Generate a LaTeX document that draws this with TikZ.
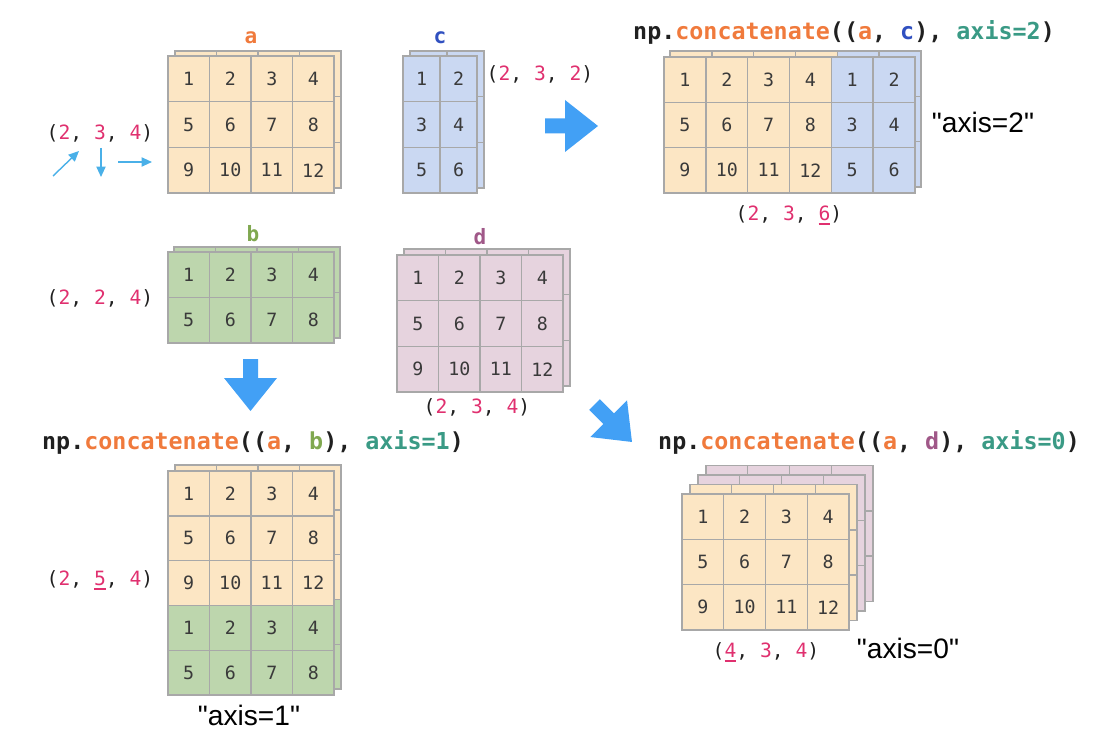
\documentclass[tikz,border=0pt]{standalone}
\usepackage{fontspec}
\setmainfont{Liberation Sans}[Ligatures=TeXOff]
\setmonofont{DejaVu Sans Mono}
\usetikzlibrary{arrows.meta}
\definecolor{orf}{HTML}{FCE6C4}
\definecolor{blf}{HTML}{CAD8F2}
\definecolor{grf}{HTML}{BDD6AD}
\definecolor{pkf}{HTML}{E6D3DE}
\definecolor{gridc}{HTML}{A8A8A8}
\definecolor{numc}{HTML}{3A3A3A}
\definecolor{dark}{HTML}{202020}
\definecolor{pk}{HTML}{E0306F}
\definecolor{orc}{HTML}{F07A3C}
\definecolor{blc}{HTML}{3050C0}
\definecolor{grc}{HTML}{80A850}
\definecolor{puc}{HTML}{A05888}
\definecolor{tl}{HTML}{3A9A85}
\definecolor{bigblue}{HTML}{42A0F5}
\definecolor{smallblue}{HTML}{4AB0E8}
\newcommand{\drawlayer}[9]{%
  \foreach \r in {1,...,#5}{%
    \foreach \c in {1,...,#4}{%
      \pgfmathtruncatemacro{\n}{(\r-1)*#4+\c}%
      \node[cell, fill=#8, minimum width=#6*0.025cm, minimum height=#7*0.025cm]
        (#1-\r-\c) at ({#2+(\c-0.5)*#6},{#3+(\r-0.5)*#7}) {\ifnum#9=1 \n\fi};
    }}}
\newcommand{\pk}[1]{\textcolor{pk}{#1}}
\newcommand{\pul}[1]{\textcolor{pk}{\setbox0\hbox{#1}\rlap{\rule[-3.2pt]{\wd0}{1.3pt}}\box0}}
\begin{document}
\begin{tikzpicture}[x=0.025cm,y=-0.025cm,
  cell/.style={draw=gridc, line width=1pt, inner sep=0pt, text=numc,
    font=\ttfamily\fontsize{13}{13}\selectfont},
  shp/.style={font=\ttfamily\fontsize{14}{14}\selectfont, text=dark, inner sep=0pt},
  ttl/.style={font=\ttfamily\bfseries\fontsize{16.6}{17}\selectfont, text=dark, inner sep=0pt},
  quote/.style={font=\fontsize{20}{20}\selectfont, text=black, inner sep=0pt},
  lbl/.style={font=\ttfamily\bfseries\fontsize{15}{15}\selectfont, inner sep=0pt},
  blockarrow/.style={fill=bigblue, draw=none},
  smallarrow/.style={draw=smallblue, line width=1pt, -{Triangle[length=2.6mm,width=2.3mm]}}]
\useasboundingbox (0,0) rectangle (1116,734);

% ---------- a ----------
\drawlayer{aB}{175}{51}{4}{3}{41.5}{45.7}{orf}{0}
\drawlayer{a}{168}{56}{4}{3}{41.5}{45.7}{orf}{1}
\node[lbl, text=orc] (la) at (251,38) {a};
\node[shp] (sa) at (100,133) {(\pk{2}, \pk{3}, \pk{4})};
\coordinate (s1a) at (53,176); \coordinate (s1b) at (79,151);
\coordinate (s2a) at (101,148); \coordinate (s2b) at (101,177);
\coordinate (s3a) at (118,162); \coordinate (s3b) at (152,162);
\draw[smallarrow] (s1a) -- (s1b);
\draw[smallarrow] (s2a) -- (s2b);
\draw[smallarrow] (s3a) -- (s3b);

% ---------- c ----------
\drawlayer{cB}{410}{51}{2}{3}{37}{45.7}{blf}{0}
\drawlayer{c}{403}{56}{2}{3}{37}{45.7}{blf}{1}
\node[lbl, text=blc] (lc) at (440,38) {c};
\node[shp] (sc) at (540,74) {(\pk{2}, \pk{3}, \pk{2})};

% right arrow
\fill[blockarrow] (545,118.5) -- (565,118.5) -- (565,100) -- (598,126) -- (565,152) -- (565,133.5) -- (545,133.5) -- cycle;

% ---------- result axis=2 ----------
\drawlayer{r2aB}{670}{51}{4}{3}{41.83}{45.3}{orf}{0}
\drawlayer{r2cB}{837.3}{51}{2}{3}{41.83}{45.3}{blf}{0}
\drawlayer{r2a}{664}{57}{4}{3}{41.83}{45.3}{orf}{1}
\drawlayer{r2c}{831.3}{57}{2}{3}{41.83}{45.3}{blf}{1}
\node[ttl] (t2) at (844,32) {np.\textcolor{orc}{concatenate}((\textcolor{orc}{a}, \textcolor{blc}{c}), \textcolor{tl}{axis=2})};
\node[quote] (q2) at (983,122) {"axis=2"};
\node[shp] (s2) at (789,215) {(\pk{2}, \pk{3}, \pul{6})};

% ---------- b ----------
\drawlayer{bB}{174}{247}{4}{2}{41.5}{45.5}{grf}{0}
\drawlayer{b}{168}{252}{4}{2}{41.5}{45.5}{grf}{1}
\node[lbl, text=grc] (lb) at (253,234) {b};
\node[shp] (sb) at (100,298) {(\pk{2}, \pk{2}, \pk{4})};

% down arrow
\fill[blockarrow] (243,359) -- (258,359) -- (258,378) -- (277,378) -- (250.5,411) -- (224,378) -- (243,378) -- cycle;

% ---------- d ----------
\drawlayer{dB}{404}{249}{4}{3}{41.5}{45.7}{pkf}{0}
\drawlayer{d}{397}{255}{4}{3}{41.5}{45.7}{pkf}{1}
\node[lbl, text=puc] (ld) at (480,237) {d};
\node[shp] (sd) at (477,407) {(\pk{2}, \pk{3}, \pk{4})};

% diagonal arrow
\begin{scope}[shift={(594.5,404.5)}, rotate=-45]
\fill[blockarrow] (0,-7.5) -- (20,-7.5) -- (20,-26) -- (53,0) -- (20,26) -- (20,7.5) -- (0,7.5) -- cycle;
\end{scope}

% ---------- result axis=1 ----------
\drawlayer{r1aB}{175}{465}{4}{3}{41.5}{44.8}{orf}{0}
\drawlayer{r1bB}{175}{599.4}{4}{2}{41.5}{44.8}{grf}{0}
\drawlayer{r1a}{168}{471}{4}{3}{41.5}{44.8}{orf}{1}
\drawlayer{r1b}{168}{605.4}{4}{2}{41.5}{44.8}{grf}{1}
\node[ttl] (t1) at (253,442) {np.\textcolor{orc}{concatenate}((\textcolor{orc}{a}, \textcolor{grc}{b}), \textcolor{tl}{axis=1})};
\node[shp] (s1) at (100,580) {(\pk{2}, \pul{5}, \pk{4})};
\node[quote] (q1) at (249,715) {"axis=1"};

% ---------- result axis=0 ----------
\drawlayer{r0L3}{706}{465.5}{4}{3}{41.75}{45.33}{pkf}{0}
\drawlayer{r0L2}{698}{475}{4}{3}{41.75}{45.33}{pkf}{0}
\drawlayer{r0L1}{690}{484.5}{4}{3}{41.75}{45.33}{orf}{0}
\drawlayer{r0}{682}{494}{4}{3}{41.75}{45.33}{orf}{1}
\node[ttl] (t0) at (869,442) {np.\textcolor{orc}{concatenate}((\textcolor{orc}{a}, \textcolor{puc}{d}), \textcolor{tl}{axis=0})};
\node[shp] (s0) at (766,652) {(\pul{4}, \pk{3}, \pk{4})};
\node[quote] (q0) at (908,648) {"axis=0"};
\end{tikzpicture}
\end{document}
